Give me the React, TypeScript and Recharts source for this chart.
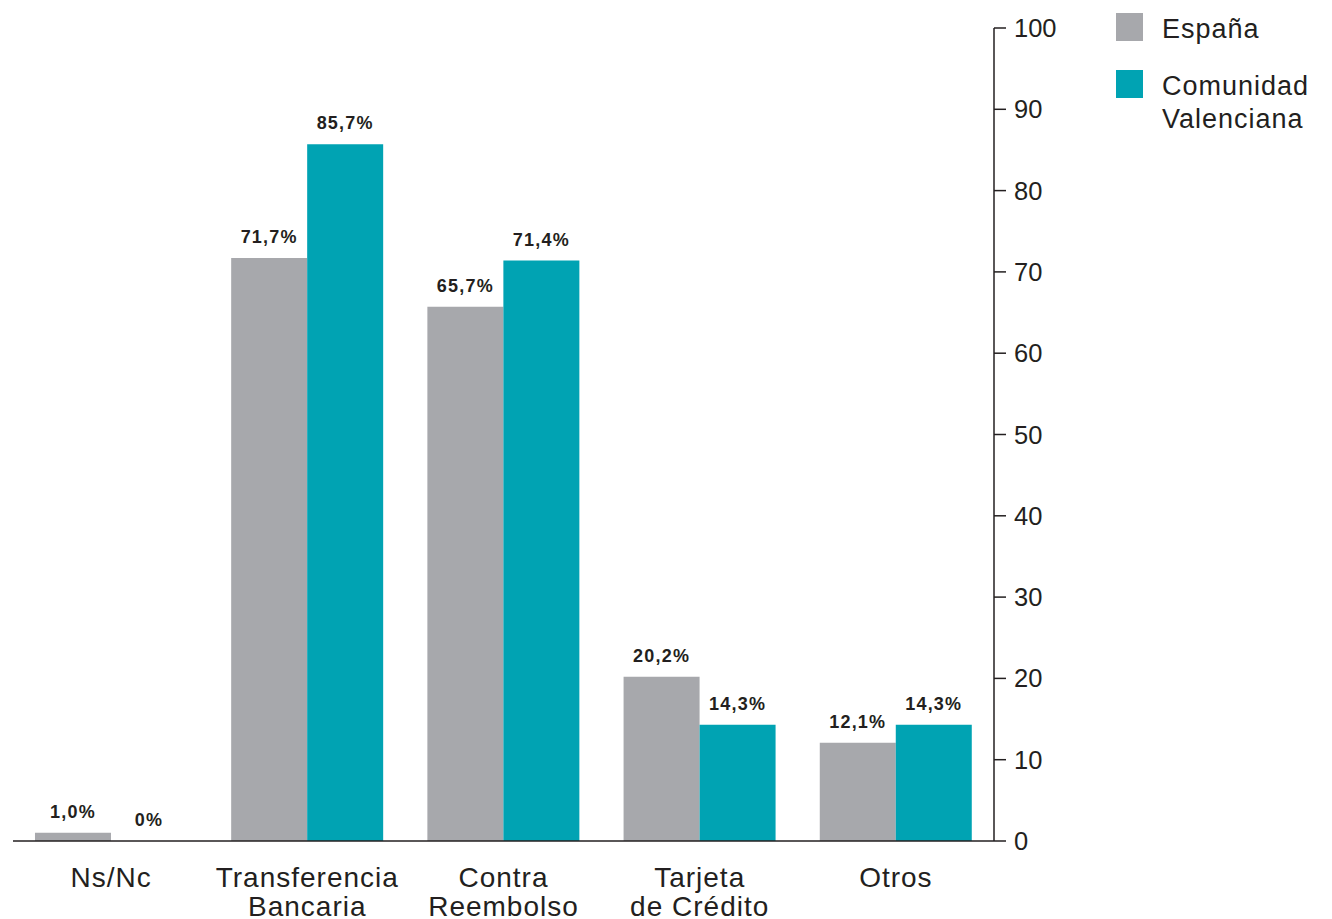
import React from 'react';
import { BarChart, Bar, XAxis, YAxis, LabelList } from 'recharts';

const categories = ['Ns/Nc', 'Transferencia\nBancaria', 'Contra\nReembolso', 'Tarjeta\nde Crédito', 'Otros'];
const espana = [1.0, 71.7, 65.7, 20.2, 12.1];
const comunidad = [0, 85.7, 71.4, 14.3, 14.3];
const yTicks = [0, 10, 20, 30, 40, 50, 60, 70, 80, 90, 100];
const seriesNames = ['España', 'Comunidad\nValenciana'];

const GRAY = '#a7a8ac';
const TEAL = '#00a3b3';
const INK = '#231f20';
const FONT = '"Liberation Sans", Arial, sans-serif';

const data = categories.map((c, i) => ({ cat: c, es: espana[i], cv: comunidad[i] }));

const fmt = (v: any) => {
  const n = Number(v);
  if (n === 0) return '0%';
  return n.toFixed(1).replace('.', ',') + '%';
};

const CatTick = (props: any) => {
  const { x, y, payload } = props;
  const lines = String(payload.value).split('\n');
  return (
    <text x={x} y={y + 46} textAnchor="middle" fill={INK} fontSize={28} fontFamily={FONT} letterSpacing={1}>
      {lines.map((l, i) => (
        <tspan key={i} x={x} dy={i === 0 ? 0 : 29}>{l}</tspan>
      ))}
    </text>
  );
};

const YTick = (props: any) => {
  const { x, y, payload } = props;
  return (
    <text x={x} y={y + 9} textAnchor="start" fill={INK} fontSize={25.5} fontFamily={FONT}>
      {payload.value}
    </text>
  );
};

const tinyForZero = (v: any) => (Number(v) === 0 ? 0.01 : 0);

export default function App() {
  return (
    <div style={{ position: 'absolute', left: 0, top: 0, width: 1332, height: 919, background: '#fff' }}>
      <BarChart
        width={1332}
        height={919}
        data={data}
        margin={{ top: 28, right: 268, bottom: 0, left: 13 }}
        barCategoryGap="11.2%"
        barGap={0}
      >
        <XAxis
          dataKey="cat"
          tickLine={false}
          axisLine={{ stroke: INK, strokeWidth: 1.5 }}
          tick={<CatTick />}
          tickSize={0}
          tickMargin={0}
          height={78}
          interval={0}
        />
        <YAxis
          orientation="right"
          domain={[0, 100]}
          ticks={yTicks}
          width={70}
          axisLine={{ stroke: INK, strokeWidth: 1.5 }}
          tickLine={{ stroke: INK, strokeWidth: 1.5 }}
          tickSize={12}
          tickMargin={8}
          tick={<YTick />}
          interval={0}
        />
        <Bar dataKey="es" fill={GRAY} isAnimationActive={false} minPointSize={tinyForZero as any}>
          <LabelList dataKey="es" position="top" offset={15} formatter={fmt} fill={INK} fontSize={18} fontWeight="bold" fontFamily={FONT} letterSpacing={1.2} />
        </Bar>
        <Bar dataKey="cv" fill={TEAL} isAnimationActive={false} minPointSize={tinyForZero as any}>
          <LabelList dataKey="cv" position="top" offset={15} formatter={fmt} fill={INK} fontSize={18} fontWeight="bold" fontFamily={FONT} letterSpacing={1.2} />
        </Bar>
      </BarChart>
      <div style={{ position: 'absolute', left: 1116, top: 13, fontFamily: FONT, fontSize: 27, color: INK, letterSpacing: 1 }}>
        {seriesNames.map((name, i) => (
          <div key={i} style={{ position: 'absolute', left: 0, top: i === 0 ? 0 : 57, width: 220 }}>
            <div style={{ position: 'absolute', left: 0, top: 0, width: 27, height: 28, background: i === 0 ? GRAY : TEAL }} />
            <div style={{ position: 'absolute', left: 46, top: 0, lineHeight: '33px', whiteSpace: 'pre' }}>{name}</div>
          </div>
        ))}
      </div>
    </div>
  );
}
